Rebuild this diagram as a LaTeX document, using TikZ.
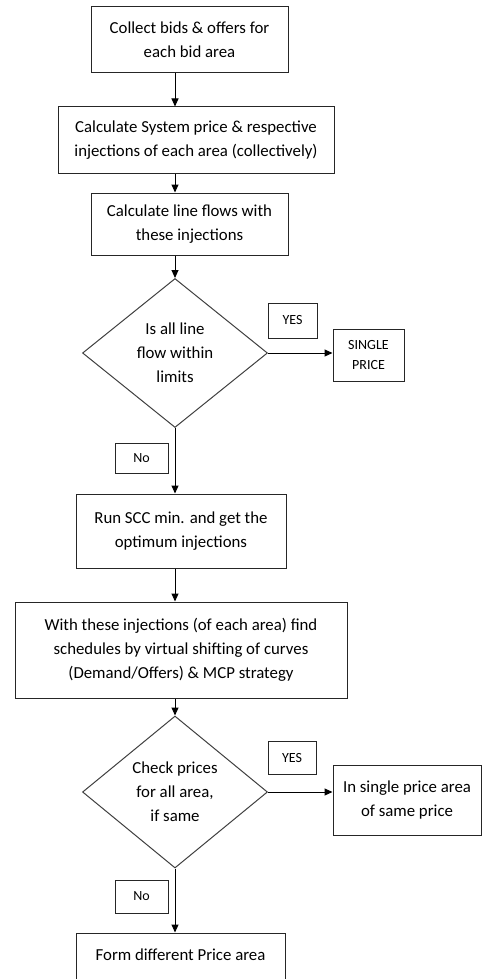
\documentclass[tikz,border=0pt]{standalone}
\usepackage{fontspec}
\setmainfont{Carlito}
\usetikzlibrary{shapes.geometric,arrows.meta}
\begin{document}
\begin{tikzpicture}[x=1pt,y=-1pt,
  box/.style={draw=black!85, line width=1pt, rectangle, align=center, inner sep=0pt,
    font=\fontsize{16.8}{24}\selectfont, text=black},
  dia/.style={draw=black!75, line width=1pt, diamond, aspect=1.24, align=center, inner sep=0pt,
    font=\fontsize{16.8}{24}\selectfont, text=black},
  tag/.style={draw=black!85, line width=1pt, rectangle, align=center, inner sep=0pt,
    font=\fontsize{14}{20}\selectfont, text=black},
  arr/.style={-{Triangle[length=8pt,width=7pt]}, line width=1pt, draw=black}]
\useasboundingbox (0,0) rectangle (482,979);
\fill[white] (0,0) rectangle (482,979);
\clip (0,0) rectangle (482,979);

\node[box, minimum width=197, minimum height=66] (b1) at (189.5,40) {Collect bids \& offers for\\each bid area};
\node[box, minimum width=276, minimum height=66] (b2) at (196,140) {Calculate System price \& respective\\injections of each area (collectively)};
\node[box, minimum width=197, minimum height=62] (b3) at (189.5,224) {Calculate line flows with\\these injections};
\node[dia, minimum width=185, minimum height=149] (d1) at (175,353) {Is all line\\flow within\\limits};
\node[tag, minimum width=49, minimum height=35] (y1) at (292.5,320.5) {YES};
\node[tag, minimum width=71, minimum height=52] (sp) at (368.5,355) {SINGLE\\PRICE};
\node[tag, minimum width=53, minimum height=30] (n1) at (141.5,458) {No};
\node[box, minimum width=210, minimum height=74] (scc) at (181,531) {Run SCC min. and get the\\optimum injections};
\node[box, minimum width=332, minimum height=96] (b5) at (181,650) {With these injections (of each area) find\\schedules by virtual shifting of curves\\(Demand/Offers) \& MCP strategy};
\node[dia, minimum width=185, minimum height=152] (d2) at (175,792) {Check prices\\for all area,\\if same};
\node[tag, minimum width=48, minimum height=33] (y2) at (292,757.5) {YES};
\node[box, minimum width=148, minimum height=70] (isp) at (407,800) {In single price area\\of same price};
\node[tag, minimum width=53, minimum height=33] (n2) at (141.5,896.5) {No};
\node[box, minimum width=209, minimum height=72, text depth=28pt] (fin) at (180.5,969) {Form different Price area};

\draw[arr] (b1.south -| d1) -- (b2.north -| d1);
\draw[arr] (b2.south -| d1) -- (b3.north -| d1);
\draw[arr] (b3.south -| d1) -- (d1.north);
\draw[arr] (d1.east) -- (sp.west |- d1.east);
\draw[arr] (d1.south) -- (scc.north -| d1);
\draw[arr] (scc.south -| d1) -- (b5.north -| d1);
\draw[arr] (b5.south -| d1) -- (d2.north);
\draw[arr] (d2.east) -- (isp.west |- d2.east);
\draw[arr] (d2.south) -- (fin.north -| d2);
\end{tikzpicture}
\end{document}
